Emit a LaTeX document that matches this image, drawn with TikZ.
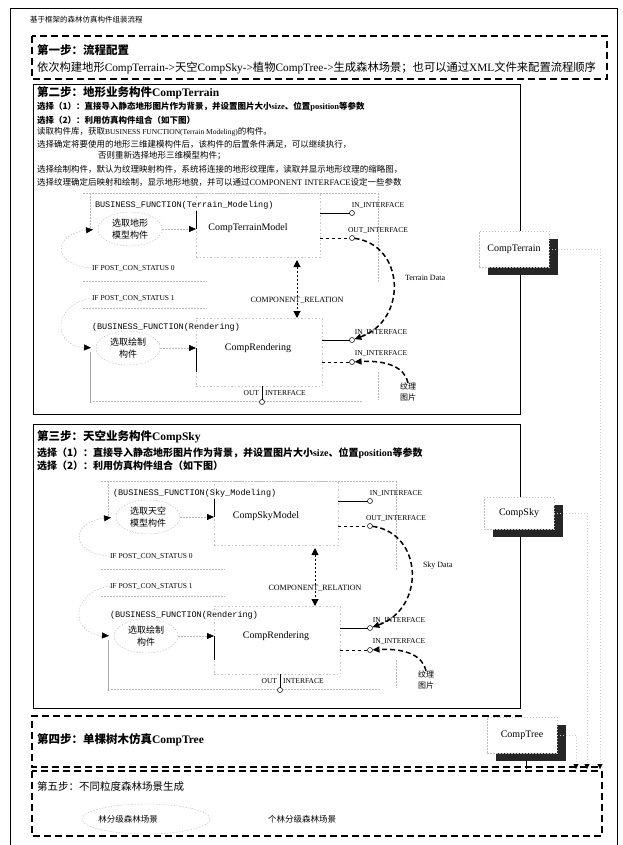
\documentclass[tikz,border=0pt]{standalone}
\usepackage{fontspec}
\setmainfont{Liberation Serif}
\newfontfamily\cjkf{Noto Sans CJK SC}
\newfontfamily\monof{Liberation Mono}
\usetikzlibrary{arrows.meta,shapes.geometric,shadows}
\newcommand\zhs[1]{{\cjkf #1}}
\newcommand\compdiag[6]{%
  \draw[faint] (83,193) -- (377,193);
  \draw[faint] (90,193) -- (90,228);
  \node[bf] (#1bf) at (95,205) {#2};
  \node[selell] (#1sel) at (130,229) {\zhs{#3}\\\zhs{#4}};
  \node[mbox, minimum width=124pt, minimum height=64pt] (#1mbox) at (196,193) {};
  \draw[line width=0.5pt] ([yshift=-18pt]#1mbox.north west) -- ([yshift=-36pt]#1mbox.north west);
  \node[font=\fontsize{10}{12}\selectfont] (#1mname) at (248,228) {#5};
  \draw[faint, -{Triangle[color=black,length=7pt,width=6pt]}] (#1sel.east) -- (#1sel.east -| #1mbox.west);
  \node[iflab] (#1if0) at (92,268) {IF POST\_CON\_STATUS 0};
  \draw[faint] (83,281) -- (207,281);
  \node[iflab] (#1if1) at (92,298) {IF POST\_CON\_STATUS 1};
  \draw[faint] (83,308) -- (207,308);
  \node[bf] (#1rbf) at (92,327) {(BUSINESS\_FUNCTION(Rendering)};
  \node[selell] (#1rsel) at (128,348) {\zhs{选取绘制}\\\zhs{构件}};
  \node[mbox, minimum width=126pt, minimum height=68pt] (#1rbox) at (196,318) {};
  \draw[line width=0.5pt] ([yshift=-30pt]#1rbox.north west) -- ([yshift=-54pt]#1rbox.north west);
  \node[font=\fontsize{10}{12}\selectfont] (#1rname) at (258,348) {CompRendering};
  \draw[faint, -{Triangle[color=black,length=7pt,width=6pt]}] (#1rsel.east) -- (#1rsel.east -| #1rbox.west);
  \draw[faint, shorten >=5pt, -{Triangle[color=black,length=7pt,width=6pt]}] (#1if0.west) .. controls (52,266) and (52,234) .. (#1sel.west);
  \draw[faint, shorten >=5pt, -{Triangle[color=black,length=7pt,width=6pt]}] (#1if1.west) .. controls (52,304) and (52,346) .. (#1rsel.west);
  \draw[line width=0.4pt, gray!70] (90,352) -- (90,403);
  \draw[faint] (93,401) -- (363,401);
  \draw[faint] (378,193) -- (378,282);
  \draw[faint] (378,372) -- (378,400);
  \node[rellab] (#1rel) at (297,300) {COMPONENT\_RELATION};
  \draw[relarr, shorten >=3pt] (#1rel.north) -- (#1rel.north |- #1mbox.south);
  \draw[relarr] (#1rel.south) -- (#1rel.south |- #1rbox.north);
  \node[iface] (#1in) at (352,213) {};
  \node[ilab] (#1inl) at (378,205) {IN\_INTERFACE};
  \draw[line width=0.5pt] (#1in -| #1mbox.east) -- (#1in);
  \node[iface] (#1out) at (352,238) {};
  \node[ilab] (#1outl) at (378,230) {OUT\_INTERFACE};
  \draw[line width=0.5pt, dashed] (#1out -| #1mbox.east) -- (#1out);
  \node[iface] (#1rin1) at (352,340) {};
  \node[ilab] (#1rinl1) at (381,332) {IN\_INTERFACE};
  \draw[line width=0.5pt] (#1rin1 -| #1rbox.east) -- (#1rin1);
  \node[iface] (#1rin2) at (352,362) {};
  \node[ilab] (#1rinl2) at (381,353) {IN\_INTERFACE};
  \draw[line width=0.5pt, dashed] (#1rin2 -| #1rbox.east) -- (#1rin2);
  \node[iface] (#1rout) at (262,402) {};
  \draw[line width=0.5pt] (#1rout) -- (#1rout |- #1rbox.south);
  \node[ilab, anchor=east] (#1routa) at (259,393) {OUT};
  \node[ilab, anchor=west] (#1routb) at (265,393) {INTERFACE};
  \draw[data] (#1out) .. controls (405,245) and (408,320) .. (#1rin1);
  \node[dlab] (#1data) at (405,278) {#6};
  \node[font=\fontsize{8}{11}\selectfont, align=center] (#1tex) at (408,392) {\zhs{纹理}\\\zhs{图片}};
  \draw[data] (#1tex.north) .. controls (405,368) and (388,360) .. (#1rin2);
}
\begin{document}
\begin{tikzpicture}[x=1pt,y=-1pt,
  every node/.style={inner sep=0pt, outer sep=0pt},
  stepbox/.style={draw, line width=1.4pt, dash pattern=on 7pt off 4pt},
  faint/.style={draw=gray!55, line width=0.4pt, dash pattern=on 1.5pt off 1.5pt},
  data/.style={line width=1.5pt, dash pattern=on 5pt off 3pt, -{Triangle[length=7pt,width=6pt]}},
  relarr/.style={line width=1pt, dash pattern=on 2pt off 2pt, -{Triangle[length=7pt,width=7pt]}},
  bf/.style={anchor=west, font=\monof\fontsize{8.5}{10}\selectfont},
  selell/.style={ellipse, draw=gray!55, dash pattern=on 1.5pt off 1.5pt, minimum width=64pt, minimum height=34pt, align=center, font=\fontsize{9}{12.5}\selectfont},
  mbox/.style={draw=gray!45, dash pattern=on 1.5pt off 2pt, anchor=north west},
  iflab/.style={anchor=west, font=\fontsize{7.5}{9}\selectfont},
  rellab/.style={font=\fontsize{8}{9}\selectfont},
  ilab/.style={font=\fontsize{7.5}{9}\selectfont},
  dlab/.style={anchor=west, font=\fontsize{8}{9}\selectfont},
  iface/.style={circle, draw, fill=white, minimum size=5pt, line width=0.5pt},
  tline/.style={anchor=west, font=\fontsize{8.5}{10}\selectfont},
  sline/.style={anchor=west, font=\bfseries\fontsize{8.5}{11}\selectfont},
  ttl/.style={anchor=west, font=\bfseries\fontsize{11.5}{13}\selectfont},
  compbox/.style={draw=gray!50, dash pattern=on 1.5pt off 1.5pt, fill=white, minimum width=70pt, minimum height=36pt, font=\fontsize{10}{12}\selectfont, drop shadow={shadow xshift=9pt, shadow yshift=-8pt, fill=black!85, opacity=1}}
]
\useasboundingbox (0,0) rectangle (623,845);
\fill[white] (0,0) rectangle (623,845);
% outer frame
\draw[line width=0.9pt] (10,846) -- (10,8) -- (617,8) -- (617,846);
\node[anchor=west, font=\fontsize{7.5}{9}\selectfont] (title) at (30,20) {\zhs{基于框架的森林仿真构件组装流程}};
% step 1
\draw[stepbox] (32,36) rectangle (607,79);
\node[ttl] (s1t) at (37,50) {\zhs{第一步：流程配置}};
\node[anchor=west, font=\fontsize{11.3}{13}\selectfont] (s1l) at (37,68) {\zhs{依次构建地形}CompTerrain->\zhs{天空}CompSky->\zhs{植物}CompTree->\zhs{生成森林场景；也可以通过}XML\zhs{文件来配置流程顺序}};
% step 2
\draw[line width=0.8pt] (33,84) rectangle (520,414);
\node[ttl] (s2t) at (37,93) {\zhs{第二步：地形业务构件}CompTerrain};
\node[sline] (s2a) at (37,107) {\zhs{选择（1）：直接导入静态地形图片作为背景，并设置图片大小}size\zhs{、位置}position\zhs{等参数}};
\node[sline] (s2b) at (37,120) {\zhs{选择（2）：利用仿真构件组合（如下图）}};
\node[tline] (s2c) at (37,132) {\zhs{读取构件库，获取}{\fontsize{7.5}{9}\selectfont BUSINESS FUNCTION(Terrain Modeling)}\zhs{的构件。}};
\node[tline] (s2d) at (37,144) {\zhs{选择确定将要使用的地形三维建模构件后，该构件的后置条件满足，可以继续执行，}};
\node[tline] (s2e) at (98,156) {\zhs{否则重新选择地形三维模型构件；}};
\node[tline] (s2f) at (37,169) {\zhs{选择绘制构件，默认为纹理映射构件，系统将连接的地形纹理库，读取并显示地形纹理的缩略图，}};
\node[tline] (s2g) at (37,182) {\zhs{选择纹理确定后映射和绘制，显示地形地貌，并可以通过}COMPONENT INTERFACE\zhs{设定一些参数}};
\compdiag{T}{BUSINESS\_FUNCTION(Terrain\_Modeling)}{选取地形}{模型构件}{CompTerrainModel}{Terrain Data}
% step 3
\draw[line width=0.8pt] (33,424) rectangle (520,708);
\node[ttl] (s3t) at (37,437) {\zhs{第三步：天空业务构件}CompSky};
\node[sline, font=\bfseries\fontsize{10}{12}\selectfont] (s3a) at (37,453) {\zhs{选择（1）：直接导入静态地形图片作为背景，并设置图片大小}size\zhs{、位置}position\zhs{等参数}};
\node[sline, font=\bfseries\fontsize{10}{12}\selectfont] (s3b) at (37,466) {\zhs{选择（2）：利用仿真构件组合（如下图）}};
\begin{scope}[shift={(18,288)}]
\compdiag{S}{(BUSINESS\_FUNCTION(Sky\_Modeling)}{选取天空}{模型构件}{CompSkyModel}{Sky Data}
\end{scope}
% step 4 and 5
\draw[stepbox] (522,716) -- (32,716) -- (32,767) -- (602,767);
\node[ttl] (s4t) at (37,740) {\zhs{第四步：单棵树木仿真}CompTree};
\draw[stepbox] (32,771) rectangle (602,836);
\node[anchor=west, font=\fontsize{10.5}{12}\selectfont] (s5t) at (37,787) {\zhs{第五步：不同粒度森林场景生成}};
\node[ellipse, faint, minimum width=128pt, minimum height=30pt] (s5e) at (146,819) {};
\node[font=\fontsize{8.5}{10}\selectfont] (s5a) at (128,819) {\zhs{林分级森林场景}};
\node[font=\fontsize{8.5}{10}\selectfont] (s5b) at (302,819) {\zhs{个林分级森林场景}};
% component output boxes
\node[compbox] (cterr) at (514,249) {CompTerrain};
\node[compbox, minimum height=32pt] (csky) at (519,513) {CompSky};
\node[compbox] (ctree) at (522,735) {CompTree};
\coordinate (d600) at (600,769);
\coordinate (d587) at (587,769);
\coordinate (d576) at (576,769);
\draw[draw=gray!40, line width=0.4pt, dash pattern=on 1pt off 2pt, -{Triangle[color=black,length=5pt,width=5pt]}] (cterr.east) -| (d600);
\draw[draw=gray!40, line width=0.4pt, dash pattern=on 1pt off 2pt, -{Triangle[color=black,length=5pt,width=5pt]}] (csky.east) -| (d587);
\draw[draw=gray!40, line width=0.4pt, dash pattern=on 1pt off 2pt, -{Triangle[color=black,length=5pt,width=5pt]}] (ctree.east) -| (d576);
\draw[line width=0.8pt] ([xshift=4.5pt,yshift=-8pt]ctree.south) -- ([xshift=4.5pt]ctree.south |- d576);
\end{tikzpicture}
\end{document}
